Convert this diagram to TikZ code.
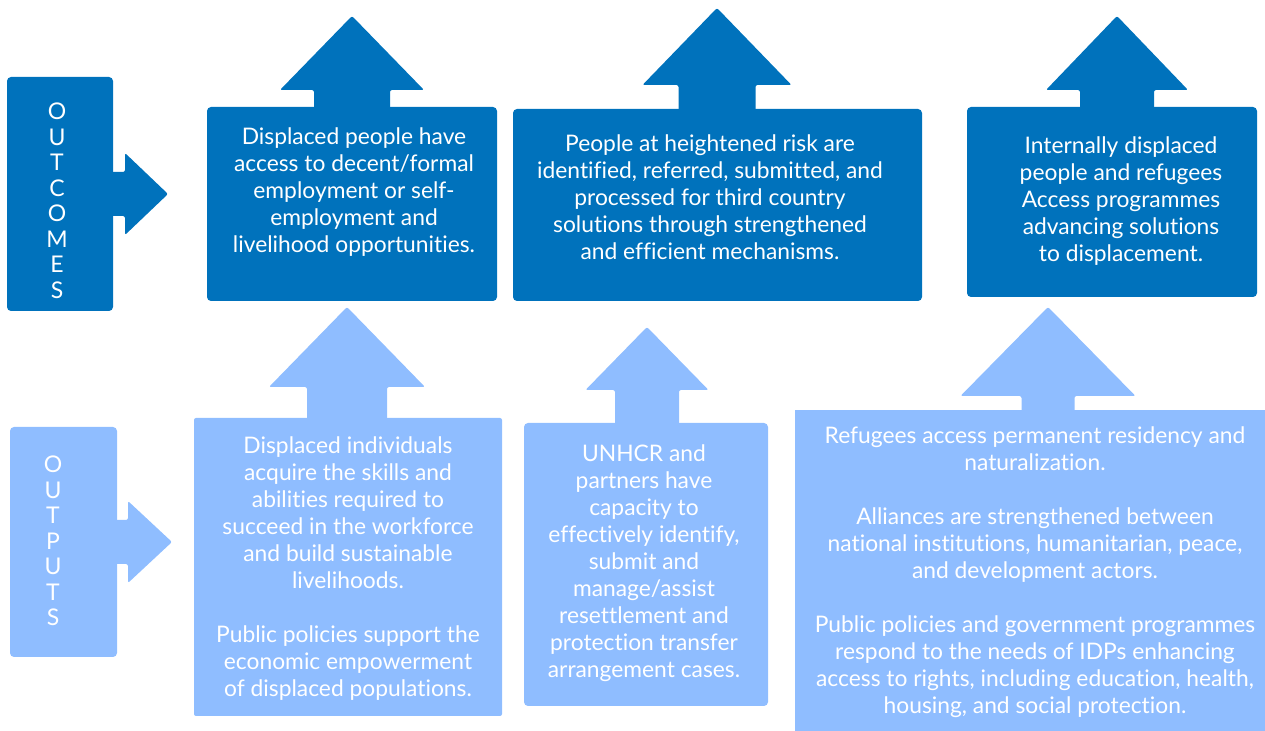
\documentclass[tikz,border=0pt]{standalone}
\usepackage{fontspec}
\setmainfont{Lato}[Ligatures=CommonOff]
\usepackage{tikz}
\usetikzlibrary{positioning,calc}
\definecolor{outcome-blue}{RGB}{0,114,188}
\definecolor{output-blue}{RGB}{143,189,255}
\tikzstyle{outcome}=[fill=outcome-blue]
\tikzstyle{output}=[fill=output-blue]
\tikzstyle{boxtext}=[text=white, align=center, inner sep=0pt, font=\fontsize{11.4}{13.5}\selectfont]
\tikzstyle{sidetext}=[text=white, align=center, inner sep=0pt, font=\fontsize{11.5}{12.75}\selectfont]
% #1 style, #2 x centre, #3 foot, #4 head base, #5 tip, #6 half shaft, #7 half head
\newcommand{\upBlock}[7]{
	\fill[rounded corners=1pt, #1] (#2-#6,#3+2) -- (#2-#6,#4) -- (#2-#7,#4) -- (#2,#5) -- (#2+#7,#4) -- (#2+#6,#4) -- (#2+#6,#3+2) -- cycle;
	\coordinate (ZZfoot) at (#2,#3);
	\coordinate (ZZtip) at (#2,#5);
}
% #1 style, #2 shaft start, #3 head base, #4 tip, #5 y centre, #6 half shaft, #7 half head
\newcommand{\rightBlock}[7]{
	\fill[rounded corners=1pt, #1] (#2-3,#5-#6) -- (#3,#5-#6) -- (#3,#5-#7) -- (#4,#5) -- (#3,#5+#7) -- (#3,#5+#6) -- (#2-3,#5+#6) -- cycle;
}

\begin{document}
\begin{tikzpicture}[x=0.5pt, y=-0.5pt]
	\useasboundingbox (0,0) rectangle (1265,731);
	% outcomes row
	\rightBlock{outcome}{113}{125}{168}{194}{22}{41};
	\fill[outcome, rounded corners=2pt] (7,77) rectangle (113,311);
	\node[sidetext] (outcomes) at (57,201) {O\\U\\T\\C\\O\\M\\E\\S};
	\upBlock{outcome}{352}{107}{90}{16}{38}{72};
	\upBlock{outcome}{717}{109}{85}{8}{38.5}{74.5};
	\upBlock{outcome}{1117}{107}{90}{16}{37}{71};
	\fill[outcome, rounded corners=2pt] (207,107) rectangle (497,301);
	\fill[outcome, rounded corners=2pt] (513,109) rectangle (922,301);
	\fill[outcome, rounded corners=2pt] (967,107) rectangle (1257,297);
	\node[boxtext] (oc1) at (354,192) {Displaced people have\\access to decent/formal\\employment or self-\\employment and\\livelihood opportunities.};
	\node[boxtext] (oc2) at (710,197) {People at heightened risk are\\identified, referred, submitted, and\\processed for third country\\solutions through strengthened\\and efficient mechanisms.};
	\node[boxtext] (oc3) at (1121,201) {Internally displaced\\people and refugees\\Access programmes\\advancing solutions\\to displacement.};
	% outputs row
	\rightBlock{output}{117}{128}{172}{542}{22}{41};
	\fill[output, rounded corners=2pt] (10,427) rectangle (117,657);
	\node[sidetext] (outputs) at (53,541) {O\\U\\T\\P\\U\\T\\S};
	\upBlock{output}{347}{418}{387}{307}{40}{78};
	\upBlock{output}{647}{423}{390}{327}{32}{61.5};
	\upBlock{output}{1048}{410}{396}{307}{26.5}{87.5};
	\fill[output, rounded corners=1pt] (194,418) rectangle (502,716);
	\fill[output, rounded corners=2pt] (524,423) rectangle (768,706);
	\fill[output] (795,410) rectangle (1265,731);
	\node[boxtext] (op1) at (348,568.5) {Displaced individuals\\acquire the skills and\\abilities required to\\succeed in the workforce\\and build sustainable\\livelihoods.\\[13.5pt]Public policies support the\\economic empowerment\\of displaced populations.};
	\node[boxtext] (op2) at (644,563.5) {UNHCR and\\partners have\\capacity to\\effectively identify,\\submit and\\manage/assist\\resettlement and\\protection transfer\\arrangement cases.};
	\node[boxtext] (op3) at (1035,572) {Refugees access permanent residency and\\naturalization.\\[13.5pt]Alliances are strengthened between\\national institutions, humanitarian, peace,\\and development actors.\\[13.5pt]Public policies and government programmes\\respond to the needs of IDPs enhancing\\access to rights, including education, health,\\housing, and social protection.};
\end{tikzpicture}
\end{document}
